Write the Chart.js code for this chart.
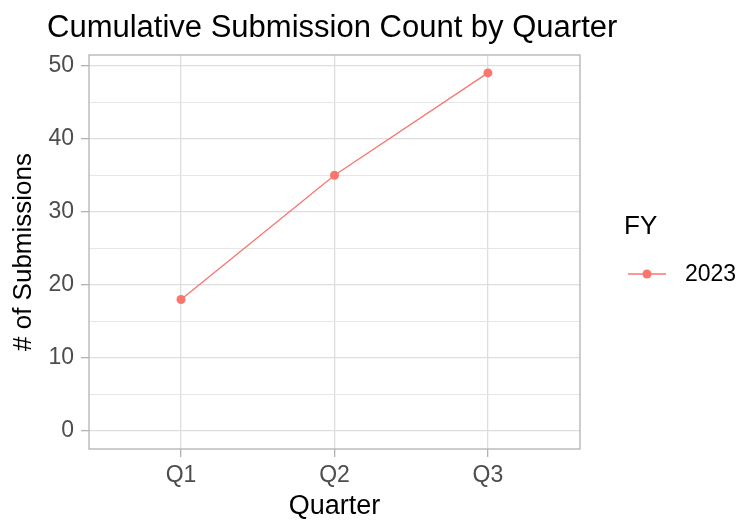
<!DOCTYPE html>
<html>
<head>
<meta charset="utf-8">
<script src="https://cdn.jsdelivr.net/npm/chart.js@4.4.0/dist/chart.umd.min.js"></script>
<style>
  html, body { margin: 0; padding: 0; background: #fff; }
  #wrap { width: 743px; height: 521px; }
</style>
</head>
<body>
<div id="wrap"><canvas id="myChart"></canvas></div>
<script>
// data
const quarters = ['Q1', 'Q2', 'Q3'];
const fy2023 = [18, 35, 49];
const yTicks = [0, 5, 10, 15, 20, 25, 30, 35, 40, 45, 50];
const seriesName = '2023';
const legendTitle = 'FY';

const FONT = "'Liberation Sans', Arial, sans-serif";
const RED = '#F8766D';

// ggplot-like frame, title and legend
const extras = {
  id: 'extras',
  afterDraw(chart) {
    const ctx = chart.ctx;
    const a = chart.chartArea;
    ctx.save();
    ctx.strokeStyle = '#B3B3B3';
    ctx.lineWidth = 1.3;
    ctx.strokeRect(a.left, a.top, a.right - a.left, a.bottom - a.top);

    ctx.fillStyle = '#000';
    ctx.font = '31px ' + FONT;
    ctx.textBaseline = 'alphabetic';
    ctx.textAlign = 'left';
    ctx.fillText('Cumulative Submission Count by Quarter', 47, 37);

    // legend
    ctx.font = '26px ' + FONT;
    ctx.fillText(legendTitle, 624, 234);
    ctx.strokeStyle = RED;
    ctx.lineWidth = 1.3;
    ctx.beginPath();
    ctx.moveTo(628, 274);
    ctx.lineTo(666, 274);
    ctx.stroke();
    ctx.fillStyle = RED;
    ctx.beginPath();
    ctx.arc(647, 274, 4.5, 0, Math.PI * 2);
    ctx.fill();
    ctx.fillStyle = '#000';
    ctx.font = '23px ' + FONT;
    ctx.textBaseline = 'middle';
    ctx.fillText(seriesName, 685, 275);
    ctx.restore();
  }
};

const isMajor = c => c.tick && c.tick.value % 10 === 0;

const data = {
  datasets: [{
    label: seriesName,
    data: fy2023.map((v, i) => ({ x: i + 1, y: v })),
    borderColor: RED,
    backgroundColor: RED,
    borderWidth: 1.3,
    pointRadius: 4.5,
    pointHoverRadius: 4.5,
    pointBorderWidth: 0,
    tension: 0
  }]
};

const config = {
  type: 'line',
  data: data,
  plugins: [extras],
  options: {
    responsive: true,
    maintainAspectRatio: false,
    animation: false,
    layout: { padding: { top: 55, right: 163, bottom: 0, left: 0 } },
    plugins: { legend: { display: false }, title: { display: false }, tooltip: { enabled: false } },
    scales: {
      x: {
        type: 'linear',
        min: 0.4,
        max: 3.6,
        afterBuildTicks: s => { s.ticks = quarters.map((q, i) => ({ value: i + 1 })); },
        afterFit: s => { s.height = 72; },
        border: { display: false },
        grid: { color: '#DEDEDE', lineWidth: 1.3, tickColor: '#B3B3B3', tickLength: 8, tickWidth: 1.3 },
        ticks: {
          padding: 5,
          color: '#4D4D4D',
          font: { family: FONT, size: 23 },
          maxRotation: 0,
          callback: v => quarters[v - 1]
        },
        title: {
          display: true,
          text: 'Quarter',
          color: '#000',
          font: { family: FONT, size: 27, lineHeight: 1 },
          padding: { top: 0, bottom: 1 }
        }
      },
      y: {
        type: 'linear',
        min: -2.45,
        max: 51.45,
        afterBuildTicks: s => { s.ticks = yTicks.map(v => ({ value: v })); },
        afterFit: s => { s.width = 89; },
        border: { display: false },
        grid: {
          color: c => isMajor(c) ? '#DEDEDE' : '#E6E6E6',
          lineWidth: c => isMajor(c) ? 1.3 : 1,
          tickColor: c => isMajor(c) ? '#B3B3B3' : 'rgba(0,0,0,0)',
          tickLength: 8,
          tickWidth: 1.3
        },
        ticks: {
          padding: 7,
          color: '#4D4D4D',
          font: { family: FONT, size: 23 },
          callback: v => (v % 10 === 0 ? String(v) : '')
        },
        title: {
          display: true,
          text: '# of Submissions',
          color: '#000',
          font: { family: FONT, size: 26, lineHeight: 1 },
          padding: { top: 11, bottom: 0 }
        }
      }
    }
  }
};

const myChart = new Chart(document.getElementById('myChart'), config);
</script>
</body>
</html>
